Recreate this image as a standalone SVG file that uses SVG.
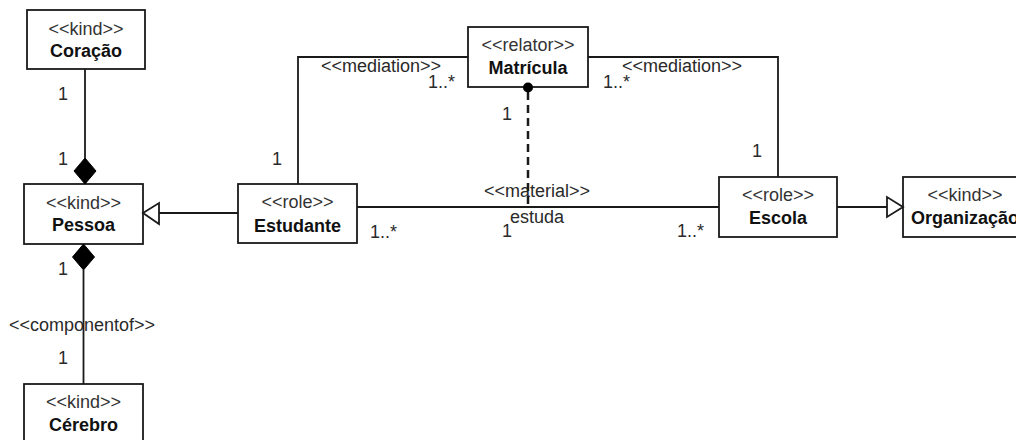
<svg xmlns="http://www.w3.org/2000/svg" width="1016" height="440" viewBox="0 0 1016 440">
  <style>
    .box { fill: #ffffff; stroke: #1a1a1a; stroke-width: 1.8; }
    .st { font-family: "Liberation Sans", Arial, sans-serif; font-size: 18px; fill: #333333; text-anchor: middle; }
    .nm { font-family: "Liberation Sans", Arial, sans-serif; font-size: 18px; font-weight: bold; fill: #111111; text-anchor: middle; }
    .lbl { font-family: "Liberation Sans", Arial, sans-serif; font-size: 18px; fill: #2a2a2a; }
    .ln { fill: none; stroke: #1a1a1a; stroke-width: 1.8; }
    .dash { fill: none; stroke: #1a1a1a; stroke-width: 2.5; stroke-dasharray: 8 5; }
    .solid { fill: #000000; stroke: #000000; stroke-width: 1; }
    .hollow { fill: #ffffff; stroke: #1a1a1a; stroke-width: 1.8; }
  </style>

  <rect width="1016" height="440" fill="#ffffff"/>

  <!-- nodes -->
  <g id="coracao">
    <rect class="box" x="27" y="10" width="118" height="59"/>
    <text class="st" x="86" y="35">&lt;&lt;kind&gt;&gt;</text>
    <text class="nm" x="86" y="57">Coração</text>
  </g>

  <g id="pessoa">
    <rect class="box" x="24" y="184" width="119" height="60"/>
    <text class="st" x="83.5" y="209">&lt;&lt;kind&gt;&gt;</text>
    <text class="nm" x="83.5" y="231">Pessoa</text>
  </g>

  <g id="cerebro">
    <rect class="box" x="24" y="384" width="119" height="62"/>
    <text class="st" x="83.5" y="408">&lt;&lt;kind&gt;&gt;</text>
    <text class="nm" x="83.5" y="431">Cérebro</text>
  </g>

  <g id="estudante">
    <rect class="box" x="238" y="184" width="119" height="59"/>
    <text class="st" x="297.5" y="208">&lt;&lt;role&gt;&gt;</text>
    <text class="nm" x="297.5" y="232">Estudante</text>
  </g>

  <g id="matricula">
    <rect class="box" x="468" y="27" width="120" height="60"/>
    <text class="st" x="528" y="51">&lt;&lt;relator&gt;&gt;</text>
    <text class="nm" x="528" y="74">Matrícula</text>
  </g>

  <g id="escola">
    <rect class="box" x="719" y="177" width="118" height="60"/>
    <text class="st" x="778" y="201">&lt;&lt;role&gt;&gt;</text>
    <text class="nm" x="778" y="224">Escola</text>
  </g>

  <g id="organizacao">
    <rect class="box" x="903" y="177" width="124" height="60"/>
    <text class="st" x="965" y="201">&lt;&lt;kind&gt;&gt;</text>
    <text class="nm" x="965" y="224">Organização</text>
  </g>

  <!-- connectors -->
  <g id="connectors">
    <!-- Coração composed into Pessoa -->
    <line class="ln" x1="85" y1="69" x2="85" y2="158"/>
    <polygon class="solid" points="85,158 96,171 85,184 74,171"/>
    <text class="lbl" x="58" y="100">1</text>
    <text class="lbl" x="58" y="165">1</text>

    <!-- Cérebro componentof Pessoa -->
    <line class="ln" x1="83.5" y1="270" x2="83.5" y2="384"/>
    <polygon class="solid" points="83.5,244 94.5,257 83.5,270 72.5,257"/>
    <text class="lbl" x="58" y="275">1</text>
    <text class="lbl" x="9" y="331">&lt;&lt;componentof&gt;&gt;</text>
    <text class="lbl" x="58" y="364">1</text>

    <!-- Estudante specializes Pessoa -->
    <line class="ln" x1="159" y1="213" x2="238" y2="213"/>
    <polygon class="hollow" points="143,213 159,203 159,224"/>

    <!-- Escola specializes Organização -->
    <line class="ln" x1="837" y1="207" x2="887" y2="207"/>
    <polygon class="hollow" points="903,207 887,197 887,217"/>

    <!-- mediation Matrícula - Estudante -->
    <polyline class="ln" points="298,184 298,57 468,57"/>
    <text class="lbl" x="321" y="72">&lt;&lt;mediation&gt;&gt;</text>
    <text class="lbl" x="428" y="88">1..*</text>
    <text class="lbl" x="272" y="165">1</text>

    <!-- mediation Matrícula - Escola -->
    <polyline class="ln" points="588,57 778,57 778,177"/>
    <text class="lbl" x="622" y="72">&lt;&lt;mediation&gt;&gt;</text>
    <text class="lbl" x="603" y="88">1..*</text>
    <text class="lbl" x="752" y="157">1</text>

    <!-- material relation estuda -->
    <line class="ln" x1="357" y1="207" x2="719" y2="207"/>
    <text class="lbl" x="484" y="197">&lt;&lt;material&gt;&gt;</text>
    <text class="lbl" x="510" y="223">estuda</text>
    <text class="lbl" x="370" y="238">1..*</text>
    <text class="lbl" x="502" y="237">1</text>
    <text class="lbl" x="677" y="237">1..*</text>

    <!-- derivation from Matrícula -->
    <line class="dash" x1="528" y1="92" x2="528" y2="207"/>
    <circle cx="528" cy="87.5" r="5" fill="#000000"/>
    <text class="lbl" x="502" y="120">1</text>
  </g>
</svg>
